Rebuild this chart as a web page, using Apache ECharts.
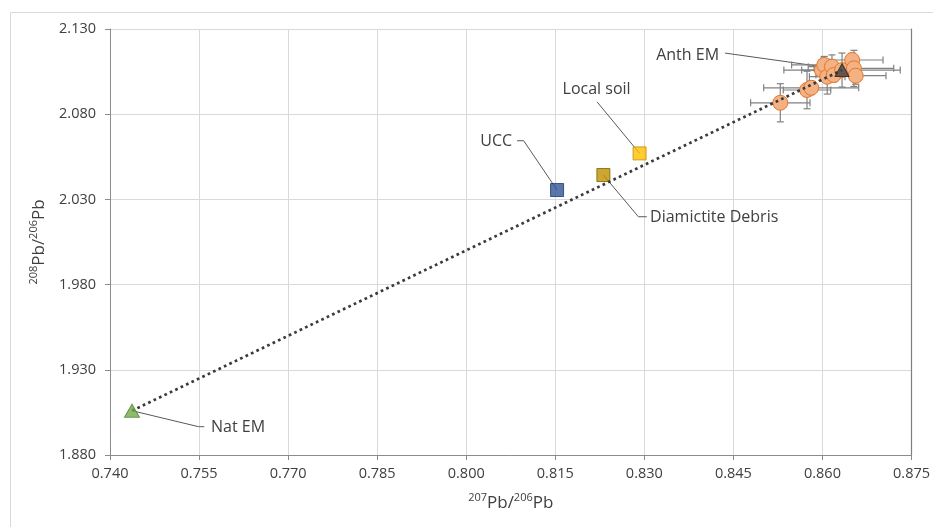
<!DOCTYPE html>
<html>
<head>
<meta charset="utf-8">
<script src="https://cdn.jsdelivr.net/npm/echarts@6/dist/echarts.min.js"></script>
<style>
  html, body { margin: 0; padding: 0; background: #ffffff; }
  #chart { width: 933px; height: 527px; }
</style>
</head>
<body>
<div id="chart"></div>
<script>
// Sample measurements: 207Pb/206Pb (x) vs 208Pb/206Pb (y) with 2σ error bars
const sampleX    = [0.8529, 0.8574, 0.8581, 0.8599, 0.8603, 0.8608, 0.8616, 0.8619, 0.8633, 0.8650, 0.8653, 0.8656];
const sampleY    = [2.0867, 2.0942, 2.0955, 2.1059, 2.1089, 2.1020, 2.1079, 2.1030, 2.1059, 2.1118, 2.1069, 2.1026];
const sampleXErr = [0.0050, 0.0040, 0.0080, 0.0034, 0.0055, 0.0030, 0.0040, 0.0030, 0.0098, 0.0052, 0.0067, 0.0051];
const sampleYErr = [0.0112, 0.0110, 0.0040, 0.0060, 0.0050, 0.0102, 0.0069, 0.0040, 0.0100, 0.0040, 0.0106, 0.0050];

// End-members of the mixing line
const endmemberNames = ['Nat EM', 'Anth EM'];
const endmemberX = [0.7437, 0.8633];
const endmemberY = [1.9060, 2.1059];

// Potential sources
const sourceNames = ['UCC', 'Diamictite Debris', 'Local soil'];
const sourceX = [0.8153, 0.8231, 0.8292];
const sourceY = [2.0355, 2.0443, 2.0570];

// Axis ranges
const xRange = { min: 0.740, max: 0.875, step: 0.015 };
const yRange = { min: 1.880, max: 2.130, step: 0.050 };

const FONT = '"Open Sans", "Noto Sans", sans-serif';
const TEXT = '#404040';
const LABEL = '#404040';
const AXIS = '#8c8c8c';
const GRID = '#d9d9d9';

const chart = echarts.init(document.getElementById('chart'), null, { renderer: 'canvas' });

function errorBars(params, api) {
  const x = api.value(0), y = api.value(1), ex = api.value(2), ey = api.value(3);
  const l = api.coord([x - ex, y]), r = api.coord([x + ex, y]);
  const t = api.coord([x, y + ey]), b = api.coord([x, y - ey]);
  const cap = 3.5;
  const style = { stroke: '#808080', lineWidth: 1.2, fill: null };
  const seg = (x1, y1, x2, y2) => ({ type: 'line', shape: { x1, y1, x2, y2 }, style });
  return {
    type: 'group',
    children: [
      seg(l[0], l[1], r[0], r[1]),
      seg(l[0], l[1] - cap, l[0], l[1] + cap),
      seg(r[0], r[1] - cap, r[0], r[1] + cap),
      seg(t[0], t[1], b[0], b[1]),
      seg(t[0] - cap, t[1], t[0] + cap, t[1]),
      seg(b[0] - cap, b[1], b[0] + cap, b[1])
    ]
  };
}

const supRich = {
  sup:  { fontFamily: FONT, fontSize: 11, color: TEXT, verticalAlign: 'top', lineHeight: 22 },
  base: { fontFamily: FONT, fontSize: 17, color: TEXT, lineHeight: 22 }
};

const sourceColors = [
  { fill: '#2f5597', border: '#1f3864' },
  { fill: '#bf9000', border: '#7f6000' },
  { fill: '#ffc000', border: '#c09000' }
];

chart.setOption({
  animation: false,
  backgroundColor: '#ffffff',
  grid: { left: 110, right: 21, top: 29, bottom: 72, containLabel: false },
  xAxis: {
    type: 'value',
    min: xRange.min, max: xRange.max, interval: xRange.step,
    name: '{sup|207}{base|Pb/}{sup|206}{base|Pb}',
    nameLocation: 'middle', nameGap: 37,
    nameTextStyle: { rich: supRich },
    axisLine: { show: true, lineStyle: { color: AXIS, width: 1 } },
    axisTick: { show: true, inside: false, length: 5, lineStyle: { color: AXIS } },
    axisLabel: { color: TEXT, fontFamily: FONT, fontSize: 14.5, margin: 11,
                 formatter: v => v.toFixed(3) },
    splitLine: { show: true, lineStyle: { color: GRID, width: 1 } }
  },
  yAxis: [{
    type: 'value',
    min: yRange.min, max: yRange.max, interval: yRange.step,
    name: '{sup|208}{base|Pb/}{sup|206}{base|Pb}',
    nameLocation: 'middle', nameGap: 58, nameRotate: 90,
    nameTextStyle: { rich: supRich },
    axisLine: { show: true, lineStyle: { color: AXIS, width: 1 } },
    axisTick: { show: true, inside: false, length: 5, lineStyle: { color: AXIS } },
    axisLabel: { color: TEXT, fontFamily: FONT, fontSize: 14.5, margin: 14,
                 formatter: v => v.toFixed(3) },
    splitLine: { show: true, lineStyle: { color: GRID, width: 1 } }
  }, {
    type: 'value', position: 'right',
    min: yRange.min, max: yRange.max, interval: yRange.step,
    axisLine: { show: true, lineStyle: { color: '#7f7f7f', width: 1.2 } },
    axisTick: { show: false }, axisLabel: { show: false }, splitLine: { show: false }
  }],
  series: [
    {
      name: 'error bars', type: 'custom', renderItem: errorBars,
      data: sampleX.map((x, i) => [x, sampleY[i], sampleXErr[i], sampleYErr[i]]),
      encode: { x: 0, y: 1 }, z: 3, silent: true
    },
    {
      name: 'Samples', type: 'scatter', symbol: 'circle', symbolSize: 15,
      data: sampleX.map((x, i) => [x, sampleY[i]]),
      itemStyle: { color: '#f4b183', borderColor: '#e0782c', borderWidth: 1, opacity: 1 },
      z: 4
    },
    {
      name: 'Sources', type: 'scatter', symbol: 'rect', symbolSize: 13,
      data: sourceX.map((x, i) => ({
        value: [x, sourceY[i]],
        itemStyle: { color: sourceColors[i].fill, borderColor: sourceColors[i].border, borderWidth: 1 }
      })),
      z: 4
    },
    {
      name: 'Mixing line', type: 'line', symbol: 'none',
      data: endmemberX.map((x, i) => [x, endmemberY[i]]),
      lineStyle: { color: '#3a3a3a', width: 2.7, type: [2.7, 3.3], cap: 'butt' },
      z: 5, silent: true
    },
    {
      name: 'End-members', type: 'scatter', symbol: 'triangle',
      data: [
        { value: [endmemberX[0], endmemberY[0]], symbolSize: [15, 13],
          itemStyle: { color: '#70ad47', borderColor: '#548235', borderWidth: 1 } },
        { value: [endmemberX[1], endmemberY[1]], symbolSize: [14, 13],
          itemStyle: { color: '#404040', borderColor: '#262626', borderWidth: 1 } }
      ],
      z: 6
    }
  ]
});

// Callout labels with leader lines (offsets in pixels from each mark)
const callouts = [
  { name: 'Anth EM', at: [endmemberX[1], endmemberY[1]],
    path: [[-117, -17], [-3, -1]], text: [-123, -15], align: 'right' },
  { name: 'Local soil', at: [sourceX[2], sourceY[2]],
    path: [[-42.5, -51.5], [0, 0]], text: [-43, -64], align: 'center' },
  { name: 'UCC', at: [sourceX[0], sourceY[0]],
    path: [[-40, -49.3], [-33.4, -49.3], [0, 0]], text: [-45, -48.5], align: 'right' },
  { name: 'Diamictite Debris', at: [sourceX[1], sourceY[1]],
    path: [[0, 0], [35, 41.7], [43.4, 41.7]], text: [46.7, 42], align: 'left' },
  { name: 'Nat EM', at: [endmemberX[0], endmemberY[0]],
    path: [[0, 0], [66.6, 16], [72.3, 16]], text: [79, 16.5], align: 'left' }
];

const graphics = [{
  type: 'rect', silent: true, z: -10,
  shape: { x: 10.5, y: 12.5, width: 960, height: 560 },
  style: { fill: null, stroke: '#d9d9d9', lineWidth: 1 }
}];

callouts.forEach(c => {
  const p = chart.convertToPixel({ xAxisIndex: 0, yAxisIndex: 0 }, c.at);
  graphics.push({
    type: 'polyline', silent: true, z: 2,
    shape: { points: c.path.map(d => [p[0] + d[0], p[1] + d[1]]) },
    style: { stroke: '#595959', lineWidth: 1, fill: null }
  });
  graphics.push({
    type: 'text', silent: true, z: 10,
    x: p[0] + c.text[0], y: p[1] + c.text[1],
    style: { text: c.name, fill: LABEL, font: '16px ' + FONT,
             textAlign: c.align, textVerticalAlign: 'middle' }
  });
});

chart.setOption({ graphic: graphics });
</script>
</body>
</html>
